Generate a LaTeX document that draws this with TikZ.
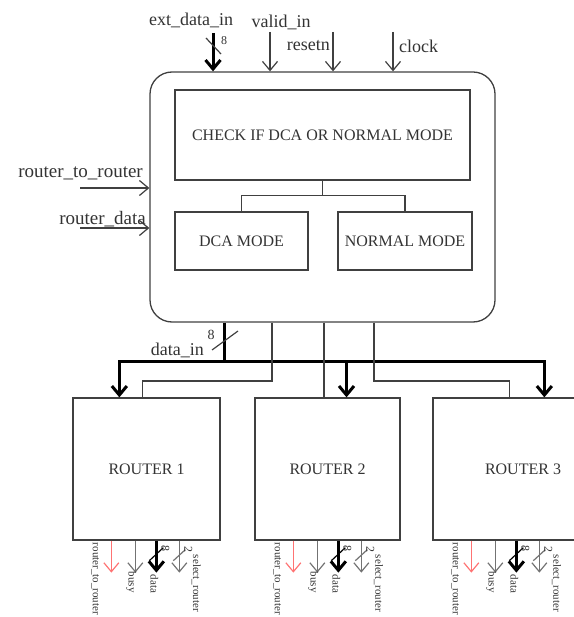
\documentclass[tikz,border=0pt]{standalone}
\usepackage{fontspec}
\setmainfont{Liberation Serif}
\usetikzlibrary{calc}
\usetikzlibrary{arrows.meta}

\tikzset{
  blk/.style={draw=black!75, line width=1.3pt, inner sep=0pt, text=black!80, font=\fontsize{16}{18}\selectfont},
  sig/.style={draw=black!75, line width=1.2pt, -{Straight Barb[length=9pt,width=15pt]}},
  wire/.style={draw=black!75, line width=1.2pt},
  bus/.style={draw=black, line width=3pt},
  busarr/.style={bus, -{Straight Barb[length=9pt,width=15pt]}},
  lbl/.style={inner sep=0pt, text=black!80, font=\fontsize{18}{20}\selectfont},
  num/.style={inner sep=0pt, text=black!80, font=\fontsize{12}{14}\selectfont},
  vlbl/.style={inner sep=0pt, text=black!80, font=\fontsize{11}{13}\selectfont, rotate=-90, anchor=west}
}

\begin{document}
\begin{tikzpicture}[x=1pt,y=-1pt]
\useasboundingbox (0,0) rectangle (573,617);

\node[blk, rounded corners=22pt, minimum width=345pt, minimum height=250pt] (main) at (322.5,197) {};
\node[blk, minimum width=295pt, minimum height=90pt] (check) at (322.5,135) {CHECK IF DCA OR NORMAL MODE};
\node[blk, minimum width=133pt, minimum height=58pt] (dca) at (241.5,241) {DCA MODE};
\node[blk, minimum width=134pt, minimum height=58pt] (normal) at (405,241) {NORMAL MODE};

\draw[wire] (check.south) -- ++(0,15) coordinate (split);
\draw[wire] (dca.north) |- (split) -| (normal.north);

\node[blk, minimum width=147pt, minimum height=142pt] (r1) at (146.5,469) {ROUTER 1};
\node[blk, minimum width=145pt, minimum height=142pt] (r2) at (327.5,469) {ROUTER 2};
\node[blk, minimum width=180pt, minimum height=142pt] (r3) at (523,469) {ROUTER 3};

% inputs on top
\coordinate (ext) at (213,33);
\coordinate (valid) at (270,32);
\coordinate (rst) at (333,32);
\coordinate (clk) at (393,32);
\draw[busarr] (ext) -- (ext |- main.north);
\draw[wire] (206,38) -- (221,54);
\node[num] (extw) at (224,41) {8};
\draw[sig] (valid) -- (valid |- main.north);
\draw[sig] (rst) -- (rst |- main.north);
\draw[sig] (clk) -- (clk |- main.north);
\node[lbl] (extl) at (191,20) {ext\_data\_in};
\node[lbl] (validl) at (281,22) {valid\_in};
\node[lbl, anchor=east] (rstl) at (330,46) {resetn};
\node[lbl, anchor=west] (clkl) at (399,46) {clock};

% inputs on the left
\coordinate (rtr) at (80,188);
\coordinate (rdata) at (80,228);
\draw[sig] (rtr) -- (rtr -| main.west);
\draw[sig] (rdata) -- (rdata -| main.west);
\node[lbl, anchor=east, font=\fontsize{19}{21}\selectfont] (rtrl) at (143,173) {router\_to\_router};
\node[lbl, anchor=east, font=\fontsize{19}{21}\selectfont] (rdatal) at (146,219) {router\_data};

% data bus to the routers
\coordinate (dbus) at (224,361);
\draw[bus] (dbus |- main.south) -- (dbus);
\draw[wire] (212,350) -- (238,331);
\node[num, font=\fontsize{14}{16}\selectfont] (dinw) at (211,335) {8};
\node[lbl, anchor=east] (dinl) at (204,350) {data\_in};
\draw[busarr] (dbus) -| ([xshift=47]r1.north west);
\draw[busarr] (dbus) -| ([xshift=112]r3.north west);
\draw[busarr] (dbus -| r2.north) ++(19,0) -- ([xshift=19]r2.north);

% control lines to the routers
\coordinate (c1) at (272,381);
\coordinate (c2) at (324,381);
\coordinate (c3) at (374,381);
\draw[wire] (c1 |- main.south) -- (c1) -| ([xshift=70]r1.north west);
\draw[wire] (c2 |- main.south) -- (c2 |- r2.north);
\draw[wire] (c3 |- main.south) -- (c3) -| ([xshift=77]r3.north west);

% router outputs
\foreach \r in {r1,r2,r3}{
  \draw[sig, draw=red!55] ([xshift=39]\r.south west) -- ++(0,32);
  \draw[sig, draw=black!55] ([xshift=63]\r.south west) -- ++(0,32);
  \draw[busarr] ([xshift=84]\r.south west) -- ++(0,32);
  \draw[sig, draw=black!55] ([xshift=107]\r.south west) -- ++(0,32);
  \draw[wire, draw=black] ([xshift=77]\r.south west) ++(0,20) -- ++(14,-13);
  \draw[wire, draw=black!55] ([xshift=101]\r.south west) ++(0,20) -- ++(12,-11);
  \node[num, rotate=-90] (\r-dw) at ([xshift=93,yshift=-8]\r.south west) {8};
  \node[num, rotate=-90] (\r-sw) at ([xshift=116,yshift=-9]\r.south west) {2};
  \node[vlbl] (\r-rtr) at ([xshift=23,yshift=-2]\r.south west) {router\_to\_router};
  \node[vlbl] (\r-busy) at ([xshift=59,yshift=-31]\r.south west) {busy};
  \node[vlbl] (\r-data) at ([xshift=82,yshift=-34]\r.south west) {data};
  \node[vlbl] (\r-sel) at ([xshift=124,yshift=-14]\r.south west) {select\_router};
}

\end{tikzpicture}
\end{document}
